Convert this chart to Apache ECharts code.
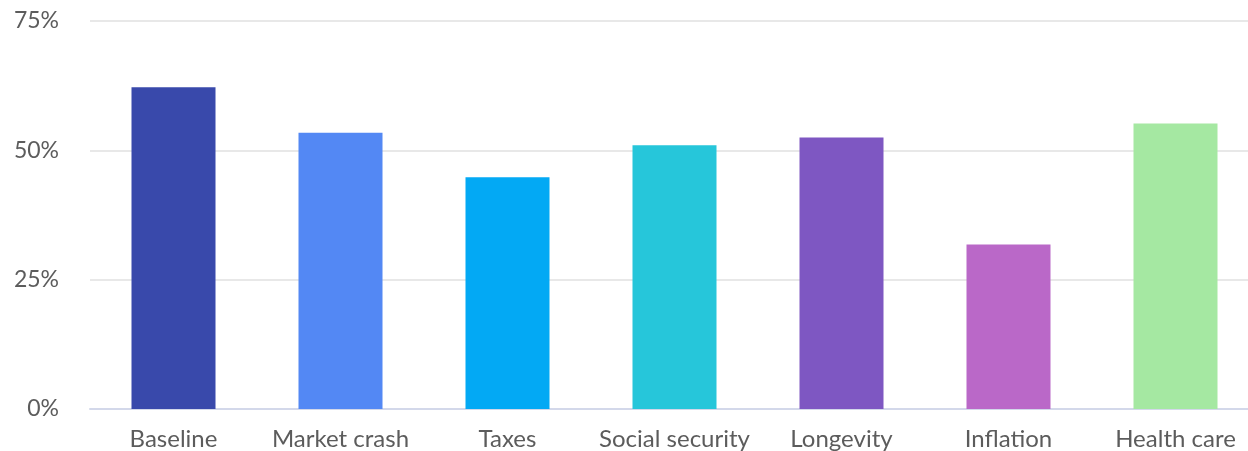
<!DOCTYPE html>
<html>
<head>
<meta charset="utf-8">
<script src="https://cdn.jsdelivr.net/npm/echarts@6/dist/echarts.min.js"></script>
<style>
  html, body { margin: 0; padding: 0; background: #fff; }
  #chart { width: 1248px; height: 451px; }
</style>
</head>
<body>
<div id="chart"></div>
<script>
// Scenario names along the x axis
const categories = ['Baseline', 'Market crash', 'Taxes', 'Social security', 'Longevity', 'Inflation', 'Health care'];
// Success rate per scenario, in percent
const values = [62.2, 53.4, 44.8, 51.0, 52.5, 31.8, 55.2];
// One colour per scenario
const barColors = ['#3949AB', '#5388F4', '#03A9F4', '#26C6DA', '#7E57C2', '#BA68C8', '#A5E8A2'];
// Y axis range and step
const yMin = 0, yMax = 75, yStep = 25;

const chart = echarts.init(document.getElementById('chart'), null, { renderer: 'canvas' });
const font = 'Lato, "Open Sans", sans-serif';

chart.setOption({
  animation: false,
  // the plot area runs past the right edge of the canvas
  grid: { left: 90, top: 21, right: -11, bottom: 42, containLabel: false, outerBoundsMode: 'none' },
  xAxis: {
    type: 'category',
    data: categories,
    axisLine: { lineStyle: { color: '#d3d8ea', width: 2 } },
    axisTick: { show: false },
    axisLabel: { color: '#5c5c5c', fontFamily: font, fontSize: 24, margin: 18, interval: 0 }
  },
  yAxis: {
    type: 'value',
    min: yMin, max: yMax, interval: yStep,
    axisLine: { show: false },
    axisTick: { show: false },
    axisLabel: { color: '#5c5c5c', fontFamily: font, fontSize: 23, margin: 31, formatter: '{value}%' },
    splitLine: { lineStyle: { color: '#e8e8e8', width: 2 } }
  },
  series: [{
    type: 'bar',
    barWidth: 84,
    data: values.map((v, i) => ({ value: v, itemStyle: { color: barColors[i] } }))
  }]
});
</script>
</body>
</html>
